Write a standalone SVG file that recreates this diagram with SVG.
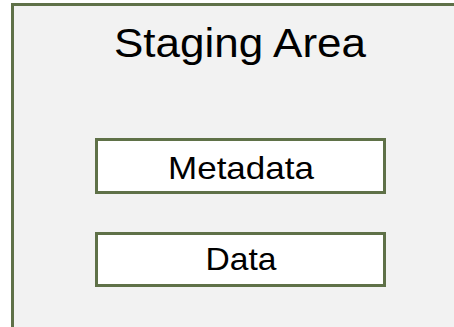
<svg xmlns="http://www.w3.org/2000/svg" width="454" height="327" viewBox="0 0 454 327">
<style>
.frame{fill:#f2f2f2;stroke:#5f7148;stroke-width:3}
.box{fill:#ffffff;stroke:#5f7148;stroke-width:3}
.t{font-family:"Liberation Sans",Arial,sans-serif;fill:#000;text-anchor:middle}
</style>
<rect width="454" height="327" fill="#ffffff"/>
<g id="staging-area">
<rect class="frame" x="12.5" y="4.5" width="460" height="340"/>
<text class="t" x="240" y="57" font-size="41" textLength="252" lengthAdjust="spacingAndGlyphs">Staging Area</text>
</g>
<g id="metadata">
<rect class="box" x="96.5" y="139.5" width="288" height="53"/>
<text class="t" x="241" y="179" font-size="32" textLength="146" lengthAdjust="spacingAndGlyphs">Metadata</text>
</g>
<g id="data">
<rect class="box" x="96.5" y="233.5" width="288" height="52"/>
<text class="t" x="241" y="270" font-size="32" textLength="71" lengthAdjust="spacingAndGlyphs">Data</text>
</g>
<g id="connectors"></g>
</svg>
